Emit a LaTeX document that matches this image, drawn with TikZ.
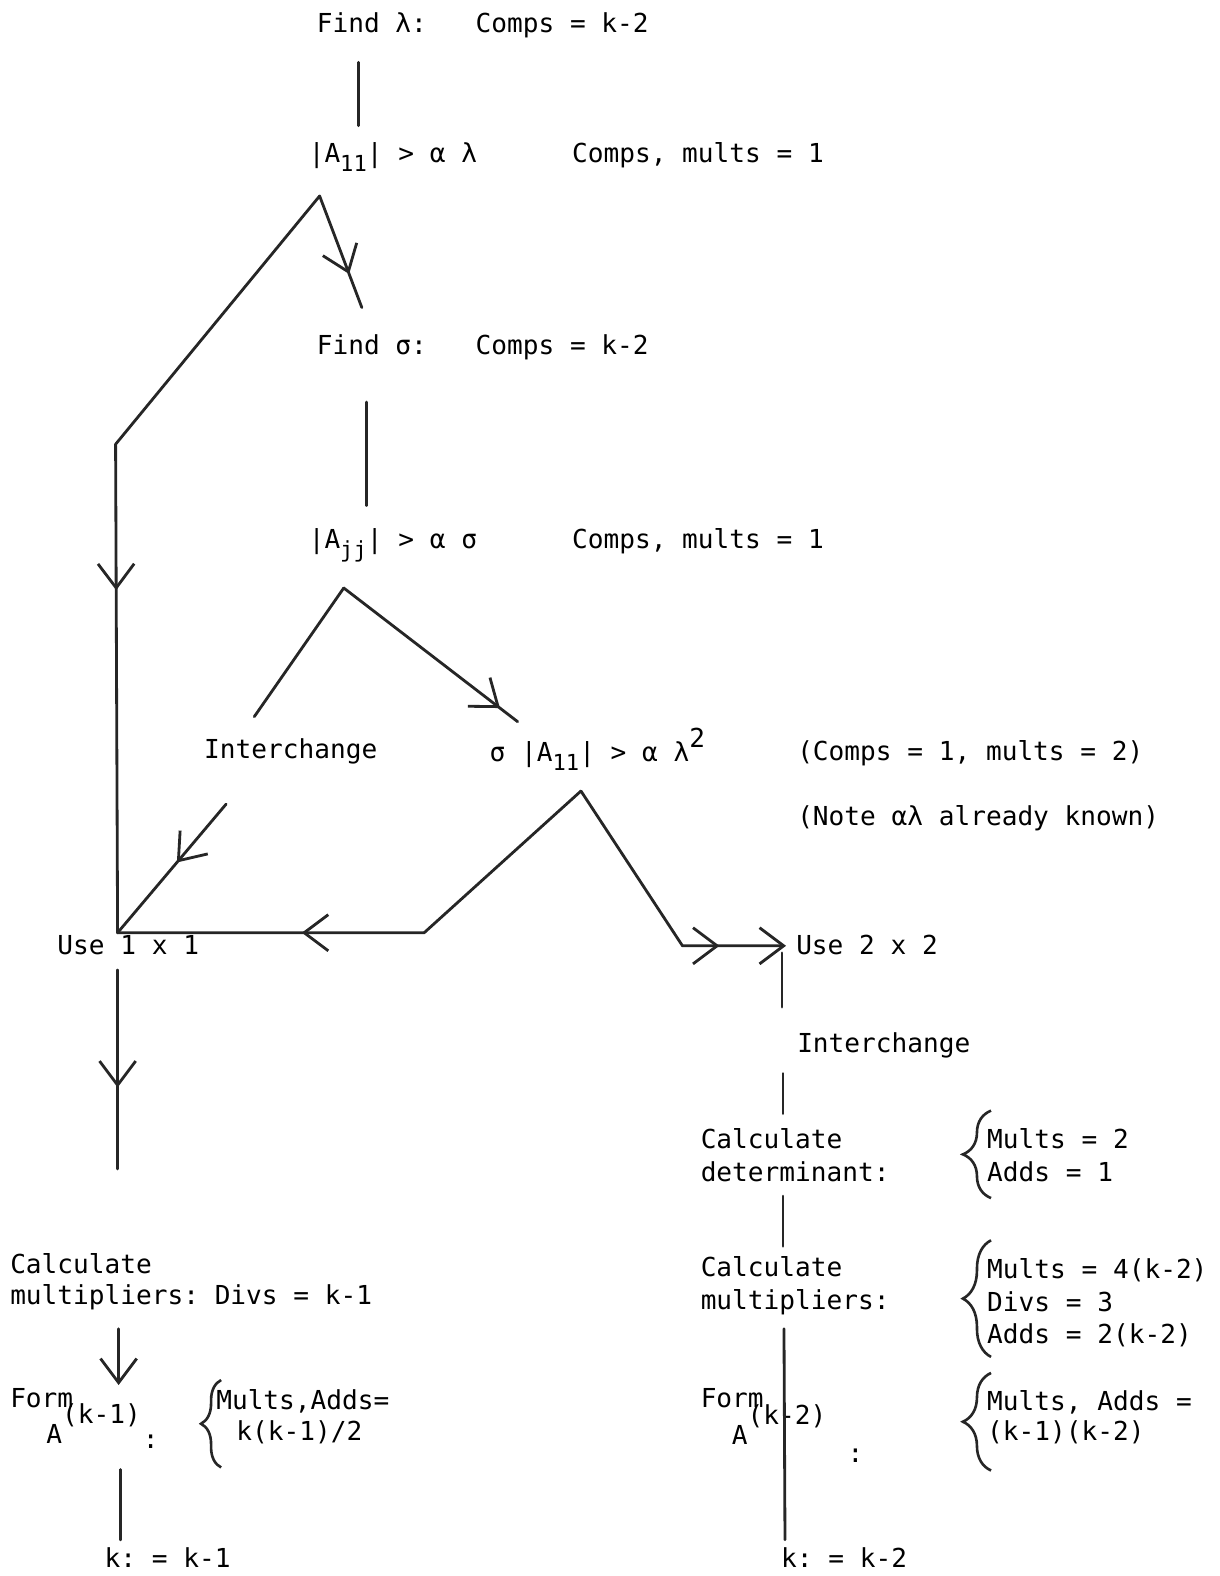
\documentclass[tikz,border=0pt]{standalone}
\usepackage{fontspec}
\setmonofont{DejaVu Sans Mono}
\usetikzlibrary{arrows.meta,decorations.markings,decorations.pathreplacing}

\newcommand{\lowsub}[1]{\raisebox{-9pt}{\fontsize{22}{22}\selectfont #1}}
\newcommand{\highsup}[1]{\raisebox{20pt}{#1}}

\tikzset{
    vtip/.tip={Straight Barb[length=24pt,width=36pt]},
    txt/.style={anchor=base west, inner sep=0pt, font=\ttfamily\fontsize{26}{32}\selectfont},
    flow/.style={line width=2.8pt, line cap=round, line join=round, black!85},
    arrowat/.style={postaction={decorate}, decoration={markings, mark=at position #1 with {\arrow{vtip}}}},
    curly/.style={line width=2.6pt, black!85, decorate, decoration={brace, amplitude=#1}}
}

\begin{document}
\begin{tikzpicture}[x=1pt,y=-1pt]
    \useasboundingbox (0,0) rectangle (1213,1568);

    % Pivot search, first column
    \node[txt] (findl) at (315,32) {Find λ:};
    \node[txt] (findlc) at (473,32) {Comps = k-2};
    \node[txt] (aoo) at (307,162) {|A\lowsub{11}| > α λ};
    \node[txt] (aooc) at (569,162) {Comps, mults = 1};
    \node[txt] (finds) at (315,353) {Find σ:};
    \node[txt] (findsc) at (473,353) {Comps = k-2};
    \node[txt] (ajj) at (307,546) {|A\lowsub{jj}| > α σ};
    \node[txt] (ajjc) at (569,546) {Comps, mults = 1};
    \node[txt] (xchl) at (203,755) {Interchange};
    \node[txt] (saoo) at (487,758) {σ |A\lowsub{11}| > α λ\raisebox{14pt}{2}};
    \node[txt] (saooc) at (793,757) {(Comps = 1, mults = 2)};
    \node[txt] (note) at (793,821) {(Note αλ already known)};

    % Pivot choice
    \node[txt] (useone) at (57,950) {Use 1 x 1};
    \node[txt] (usetwo) at (792,950) {Use 2 x 2};

    % 1 x 1 branch
    \node[txt] (mullA) at (10,1267) {Calculate};
    \node[txt] (mullB) at (10,1298) {multipliers: Divs = k-1};
    \node[txt] (formlA) at (10,1400) {Form};
    \node[txt] (formlB) at (46,1436) {A\highsup{(k-1)}};
    \node[txt] (formlcolon) at (142,1441) {:};
    \node[txt] (formlc1) at (215,1402) {Mults,Adds=};
    \node[txt] (formlc2) at (235,1433) {k(k-1)/2};
    \node[txt] (kkl) at (104,1560) {k: = k-1};

    % 2 x 2 branch
    \node[txt] (xchr) at (793,1047) {Interchange};
    \node[txt] (detA) at (697,1143) {Calculate};
    \node[txt] (detB) at (697,1175) {determinant:};
    \node[txt] (detc1) at (982,1143) {Mults = 2};
    \node[txt] (detc2) at (982,1175) {Adds = 1};
    \node[txt] (mulrA) at (697,1270) {Calculate};
    \node[txt] (mulrB) at (697,1303) {multipliers:};
    \node[txt] (mulrc1) at (982,1272) {Mults = 4(k-2)};
    \node[txt] (mulrc2) at (982,1305) {Divs = 3};
    \node[txt] (mulrc3) at (982,1337) {Adds = 2(k-2)};
    \node[txt] (formrA) at (697,1400) {Form};
    \node[txt] (formrB) at (728,1437) {A\highsup{(k-2)}};
    \node[txt] (formrcolon) at (843,1455) {:};
    \node[txt] (formrc1) at (982,1403) {Mults, Adds =};
    \node[txt] (formrc2) at (982,1433) {(k-1)(k-2)};
    \node[txt] (kkr) at (777,1560) {k: = k-2};

    % Bends of the connectors
    \coordinate (apexl) at (318,195);
    \coordinate (bendl) at (115,442);
    \coordinate (cornl) at (117,928);
    \coordinate (apexj) at (342,585);
    \coordinate (apexs) at (578,787);
    \coordinate (bends) at (422,928);
    \coordinate (bendr) at (679,941);
    \coordinate (cornr) at (782,941);

    % Connectors, upper part
    \draw[flow] (357,62) -- (357,125);
    \draw[flow, arrowat=83pt] (apexl) -- (360,306);
    \draw[flow, arrowat=465pt] (apexl) -- (bendl) -- (cornl);
    \draw[flow] (365,400) -- (365,503);
    \draw[flow] (apexj) -- (253,713);
    \draw[flow, arrowat=196pt] (apexj) -- (515,718);
    \draw[flow, arrowat=76pt] (225,800) -- (cornl);
    \draw[flow, arrowat=332pt] (apexs) -- (bends) -- (cornl);
    \draw[flow, arrowat=221pt, -{vtip}] (apexs) -- (bendr) -- (cornr);

    % Connectors, 1 x 1 branch
    \draw[flow, arrowat=117pt] (117,965) -- (117,1163);
    \draw[flow, -{vtip}] (118,1322) -- (118,1378);
    \draw[flow] (120,1462) -- (120,1532);

    % Connectors, 2 x 2 branch
    \draw[flow] (cornr) ++(-4,7) -- (778,1002);
    \draw[flow] (779,1068) -- (779,1108);
    \draw[flow] (779,1190) -- (779,1240);
    \draw[flow] (780,1322) -- (781,1532);

    % Braces
    \draw[curly=20pt] (220,1460) -- (220,1373);
    \draw[curly=28pt] (986,1192) -- (986,1105);
    \draw[curly=28pt] (986,1350) -- (986,1234);
    \draw[curly=28pt] (986,1463) -- (986,1366);
\end{tikzpicture}
\end{document}
